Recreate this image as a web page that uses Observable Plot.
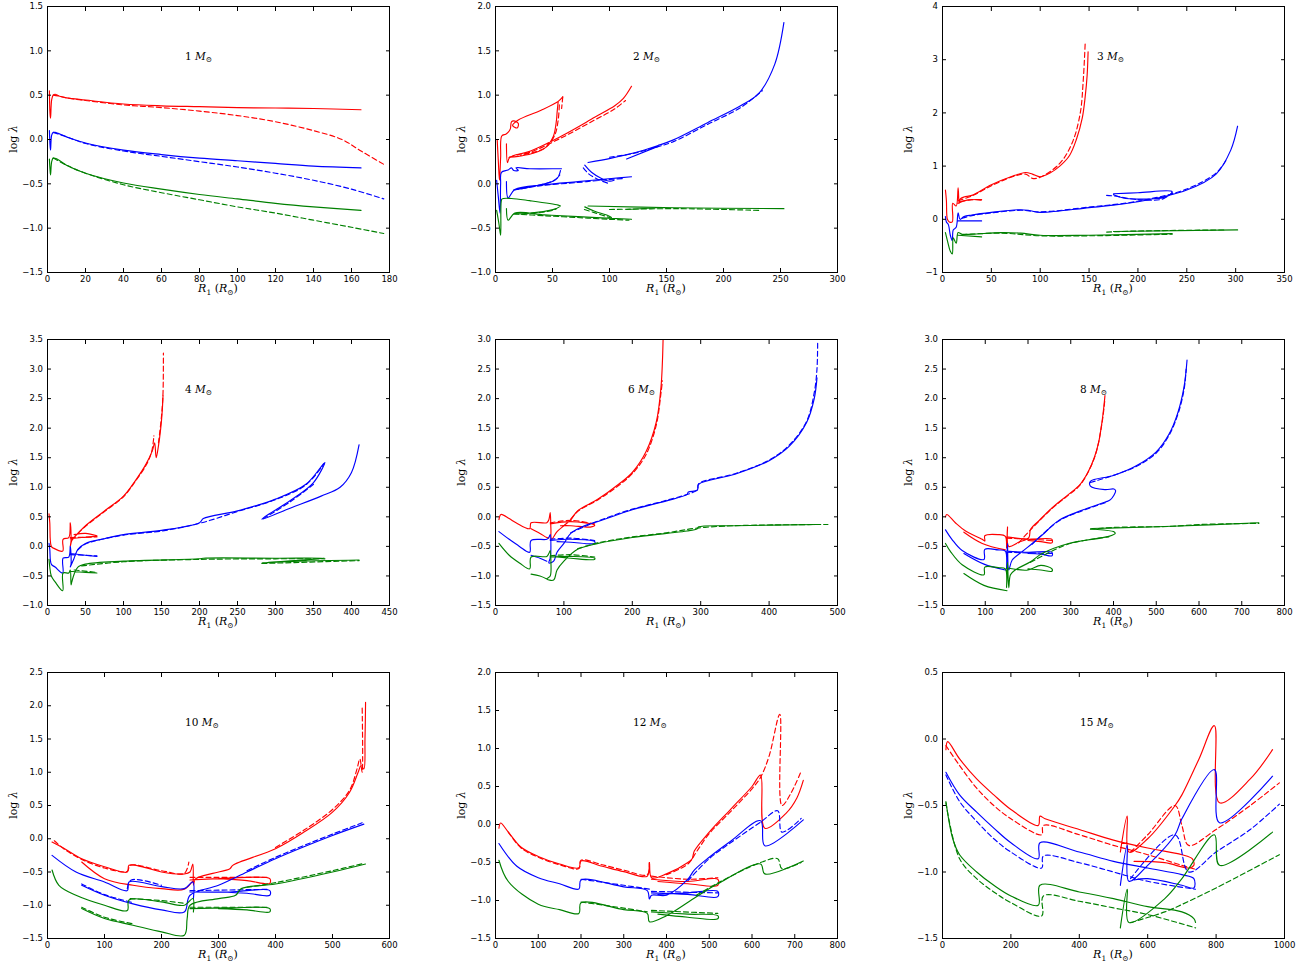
<!DOCTYPE html>
<html>
<head>
<meta charset="utf-8">
<script src="https://cdn.jsdelivr.net/npm/d3@7"></script>
<script src="https://cdn.jsdelivr.net/npm/@observablehq/plot@0.6"></script>
<style>
  body { margin: 0; background: white; }
  #wrap { position: relative; width: 1315px; height: 969px; background: white; }
  .cell { position: absolute; }
</style>
</head>
<body>
<div id="wrap"></div>
<script>
// ---------- panel masses ----------
const masses = ["1", "2", "3", "4", "6", "8", "10", "12", "15"];

// ---------- axis domains and ticks ----------
const m1_xdom = [0, 180], m1_ydom = [-1.5, 1.5];
const m2_xdom = [0, 300], m2_ydom = [-1.0, 2.0];
const m3_xdom = [0, 350], m3_ydom = [-1, 4];
const m4_xdom = [0, 450], m4_ydom = [-1.0, 3.5];
const m5_xdom = [0, 500], m5_ydom = [-1.5, 3.0];
const m6_xdom = [0, 800], m6_ydom = [-1.5, 3.0];
const m7_xdom = [0, 600], m7_ydom = [-1.5, 2.5];
const m8_xdom = [0, 800], m8_ydom = [-1.5, 2.0];
const m9_xdom = [0, 1000], m9_ydom = [-1.5, 0.5];

const m1_xticks = [0, 20, 40, 60, 80, 100, 120, 140, 160, 180];
const m1_yticks = [-1.5, -1.0, -0.5, 0.0, 0.5, 1.0, 1.5];
const m2_xticks = [0, 50, 100, 150, 200, 250, 300];
const m2_yticks = [-1.0, -0.5, 0.0, 0.5, 1.0, 1.5, 2.0];
const m3_xticks = [0, 50, 100, 150, 200, 250, 300, 350];
const m3_yticks = [-1, 0, 1, 2, 3, 4];
const m4_xticks = [0, 50, 100, 150, 200, 250, 300, 350, 400, 450];
const m4_yticks = [-1.0, -0.5, 0.0, 0.5, 1.0, 1.5, 2.0, 2.5, 3.0, 3.5];
const m5_xticks = [0, 100, 200, 300, 400, 500];
const m5_yticks = [-1.5, -1.0, -0.5, 0.0, 0.5, 1.0, 1.5, 2.0, 2.5, 3.0];
const m6_xticks = [0, 100, 200, 300, 400, 500, 600, 700, 800];
const m6_yticks = [-1.5, -1.0, -0.5, 0.0, 0.5, 1.0, 1.5, 2.0, 2.5, 3.0];
const m7_xticks = [0, 100, 200, 300, 400, 500, 600];
const m7_yticks = [-1.5, -1.0, -0.5, 0.0, 0.5, 1.0, 1.5, 2.0, 2.5];
const m8_xticks = [0, 100, 200, 300, 400, 500, 600, 700, 800];
const m8_yticks = [-1.5, -1.0, -0.5, 0.0, 0.5, 1.0, 1.5, 2.0];
const m9_xticks = [0, 200, 400, 600, 800, 1000];
const m9_yticks = [-1.5, -1.0, -0.5, 0.0, 0.5];

// ---------- series: [R1, log lambda], null = break ----------
// 1 Msun
const m1_rs = [[1,0.55],[1.3,0.3],[1.6,0.24],[2.2,0.45],[3,0.5],[4,0.51],[6,0.49],[10,0.47],[20,0.445],[40,0.40],[60,0.38],[80,0.37],[100,0.36],[120,0.355],[140,0.35],[165,0.335]];
const m1_rd = [[3,0.5],[6,0.49],[10,0.47],[20,0.44],[40,0.39],[60,0.36],[80,0.32],[100,0.27],[120,0.2],[140,0.1],[155,0.0],[165,-0.13],[177,-0.28]];
const m1_bs = [[1,0.1],[1.3,-0.05],[1.6,-0.12],[2.2,0.05],[3,0.08],[4,0.08],[10,0.03],[20,-0.04],[40,-0.12],[60,-0.17],[80,-0.21],[100,-0.24],[120,-0.27],[140,-0.30],[165,-0.32]];
const m1_bd = [[3,0.08],[10,0.03],[20,-0.045],[40,-0.13],[60,-0.19],[80,-0.25],[100,-0.31],[120,-0.38],[140,-0.46],[160,-0.56],[177,-0.67]];
const m1_gs = [[1,-0.22],[1.3,-0.33],[1.6,-0.4],[2.2,-0.25],[3,-0.21],[5,-0.22],[10,-0.29],[20,-0.38],[40,-0.49],[60,-0.56],[80,-0.62],[100,-0.67],[120,-0.72],[140,-0.76],[165,-0.80]];
const m1_gd = [[3,-0.21],[10,-0.29],[20,-0.38],[40,-0.51],[60,-0.6],[80,-0.68],[100,-0.76],[120,-0.83],[140,-0.91],[160,-0.99],[177,-1.06]];

// 2 Msun
const m2_rs = [[1.5,0.49],[2.5,0.25],[3.5,0.04],[4.5,0.3],[5.5,0.54],[9,0.56],[11,0.58],[13,0.62],[14,0.7],[16,0.71],[20,0.68],[19,0.63],[15,0.66],[20,0.72],[40,0.83],[55,0.93],[59,0.98], null,
  [55,0.93],[54,0.8],[53.5,0.72],[50.6,0.53],[43,0.4],[31.5,0.34],[19.9,0.31],[12,0.3], null,
  [9.6,0.45],[10.5,0.24],[12,0.29],[16,0.32],[28.6,0.36],[58,0.54],[87,0.75],[104.6,0.88],[112,0.96],[119.3,1.1]];
const m2_rd = [[56,0.89],[55,0.72],[52,0.55],[45,0.42],[35,0.36],[22,0.32], null, [12,0.3],[20,0.33],[30,0.355],[58,0.52],[87,0.72],[104,0.84],[114,0.94], null, [59,0.98],[58,0.85]];
const m2_bs = [[1,0.04],[2.5,-0.15],[4,-0.33],[4.5,0.0],[5.2,0.13],[11,0.157],[14,0.18],[16,0.15],[20,0.15],[18,0.18],[30,0.17],[55,0.17],[57.9,0.17], null,
  [56.4,0.1],[52,0.04],[43,0.0],[28.6,-0.04],[16,-0.07], null,
  [9.6,0.025],[11.1,-0.16],[16.9,-0.065],[43.2,-0.01],[72.4,0.025],[101.7,0.06],[119.3,0.08], null,
  [78.3,0.21],[84.2,0.13],[93,0.06],[100.3,0.03],[104,0.04], null,
  [81.2,0.24],[101.7,0.29],[122,0.35],[142,0.43],[155,0.49],[186,0.69],[215,0.88],[231,1.02],[245,1.35],[253,1.82], null,
  [115,0.28],[142,0.42]];
const m2_bd = [[57,0.15],[55,0.08],[50,0.03],[40,-0.01],[25,-0.05], null, [16,-0.07],[40,-0.02],[72,0.015],[100,0.05],[112,0.06], null, [77,0.18],[82,0.11],[90,0.05],[100,0.0], null, [100,0.3],[120,0.34],[140,0.41],[155,0.47],[186,0.67],[215,0.86],[234,1.05]];
const m2_gs = [[1,-0.3],[3,-0.45],[4.5,-0.58],[5,-0.2],[5.8,-0.17],[14,-0.165],[30,-0.19],[55,-0.24],[57,-0.25], null,
  [53.5,-0.28],[43,-0.31],[28.6,-0.33],[17,-0.34], null,
  [9.6,-0.28],[11.1,-0.41],[16.9,-0.33],[43,-0.35],[72.4,-0.37],[119.3,-0.4], null,
  [78.3,-0.26],[87,-0.31],[99,-0.36],[101.7,-0.38], null,
  [81.2,-0.25],[157,-0.27],[253,-0.28], null,
  [115,-0.29],[142,-0.27]];
const m2_gd = [[56,-0.26],[50,-0.3],[40,-0.32],[25,-0.34], null, [16,-0.34],[43,-0.36],[72,-0.38],[100,-0.4],[117,-0.41], null, [78,-0.29],[88,-0.33],[100,-0.38], null, [100,-0.29],[160,-0.28],[232,-0.3]];

// 3 Msun
const m3_rs = [[3,0.55],[4,0.35],[5,0.0],[7,-0.05],[10,-0.05],[10.5,0.3],[14,0.25],[16,0.59],[17,0.3],[18,0.38],[22,0.42],[30,0.45],[50,0.65],[70,0.8],[85,0.88],[92,0.85],[100,0.8],[110,0.87],[120,1.0],[130,1.2],[137,1.5],[143,1.9],[146,2.3],[148,2.7],[149,3.15], null, [16,0.3],[25,0.36],[40,0.37]];
const m3_rd = [[16,0.35],[30,0.44],[50,0.63],[70,0.79],[85,0.85],[92,0.77],[100,0.79],[120,1.05],[133,1.45],[141,2.0],[144,2.6],[146,3.3], null, [18,0.33],[30,0.37],[40,0.36]];
const m3_bs = [[3,0.05],[4,-0.05],[6,-0.1],[8,-0.3],[10,-0.4],[11,-0.2],[14,-0.15],[16,0.12],[18,0.0],[22,0.05],[30,0.08],[50,0.13],[80,0.18],[90,0.16],[100,0.13],[150,0.22],[200,0.33],[250,0.55],[280,0.85],[295,1.3],[302,1.75], null, [16,-0.03],[40,-0.03], null, [175,0.48],[200,0.5],[235,0.52],[232,0.45],[225,0.4],[200,0.38],[185,0.4],[175,0.46]];
const m3_bd = [[20,0.02],[30,0.07],[50,0.12],[80,0.17],[100,0.14],[150,0.23],[200,0.34],[250,0.57],[280,0.87],[290,1.1], null, [168,0.45],[175,0.44],[200,0.37],[225,0.38],[235,0.5]];
const m3_gs = [[3,-0.25],[5,-0.4],[8,-0.6],[10,-0.65],[11,-0.35],[14,-0.45],[16,-0.25],[20,-0.28],[30,-0.28],[60,-0.25],[80,-0.26],[100,-0.3],[150,-0.3],[235,-0.27], null, [16,-0.3],[40,-0.33], null, [175,-0.23],[302,-0.2]];
const m3_gd = [[20,-0.29],[60,-0.26],[100,-0.31],[150,-0.31],[235,-0.28], null, [168,-0.24],[200,-0.22],[290,-0.2]];

// 4 Msun
const m4_rs = [[2,0.55],[3,0.4],[5,0.0],[8,-0.03],[20,-0.08],[20.5,0.12],[28,0.15],[30,0.4],[31,0.1],[30,0.0],[32,0.1],[35,0.15],[40,0.22],[50,0.35],[75,0.6],[100,0.85],[115,1.1],[130,1.4],[138,1.62],[141,1.75],[143,1.5],[146,1.7],[149,2.0],[151,2.3],[152,2.55], null, [30,0.13],[45,0.15],[65,0.17], null, [35,0.2],[50,0.22],[65,0.18]];
const m4_rd = [[40,0.22],[50,0.34],[75,0.59],[100,0.84],[115,1.09],[130,1.38],[137,1.6],[140,1.87], null, [146,1.75],[150,2.2],[152,2.6],[152.5,3.27], null, [30,0.15],[65,0.16]];
const m4_bs = [[2,0.05],[3,-0.05],[5,-0.3],[10,-0.35],[20,-0.45],[20.5,-0.2],[28,-0.18],[30,0.0],[31,-0.3],[30,-0.35],[35,-0.2],[40,-0.05],[50,0.05],[75,0.13],[100,0.2],[150,0.27],[200,0.4],[205,0.47],[250,0.6],[300,0.8],[340,1.05],[362,1.38],[365,1.42],[350,1.08],[320,0.78],[282,0.46],[320,0.65],[360,0.85],[385,1.0],[400,1.25],[410,1.72], null, [30,-0.12],[50,-0.15],[65,-0.17]];
const m4_bd = [[40,-0.06],[50,0.04],[100,0.19],[150,0.26],[200,0.39],[250,0.59],[300,0.79],[340,1.04],[364,1.4], null, [350,1.05],[320,0.76],[284,0.47], null, [30,-0.14],[65,-0.16]];
const m4_gs = [[2,-0.22],[3,-0.35],[5,-0.5],[10,-0.6],[20,-0.75],[20.5,-0.45],[28,-0.45],[30,-0.4],[31,-0.65],[32,-0.6],[35,-0.47],[40,-0.35],[50,-0.3],[100,-0.25],[200,-0.21],[205,-0.2],[300,-0.2],[365,-0.2],[282,-0.28],[330,-0.25],[410,-0.23], null, [30,-0.42],[50,-0.44],[65,-0.45]];
const m4_gd = [[45,-0.33],[100,-0.26],[200,-0.22],[300,-0.21],[365,-0.21], null, [282,-0.29],[410,-0.24], null, [35,-0.4],[65,-0.44]];

// 6 Msun
const m5_rs = [[5,-0.05],[8,0.04],[20,-0.03],[30,-0.1],[50,-0.2],[52,-0.1],[75,-0.1],[78,-0.05],[80,0.07],[81,-0.2],[82,-0.38],[90,-0.25],[100,-0.15],[110,-0.05],[120,0.1],[150,0.3],[180,0.55],[200,0.75],[220,1.1],[235,1.6],[242,2.2],[245,3.0], null, [52,-0.2],[65,-0.28],[75,-0.35],[78,-0.36], null, [80,-0.12],[110,-0.08],[145,-0.14],[140,-0.17],[110,-0.15],[95,-0.15]];
const m5_rd = [[110,-0.04],[120,0.09],[150,0.29],[180,0.53],[200,0.73],[220,1.05],[235,1.55],[242,2.1],[244,2.3], null, [80,-0.1],[110,-0.06],[145,-0.12]];
const m5_bs = [[5,-0.25],[20,-0.38],[35,-0.5],[50,-0.6],[52,-0.4],[75,-0.38],[78,-0.35],[80,-0.3],[81,-0.5],[80,-0.7],[78,-0.78],[85,-0.75],[90,-0.6],[100,-0.45],[110,-0.28],[130,-0.15],[150,-0.08],[200,0.12],[250,0.27],[280,0.38],[282,0.42],[295,0.45],[297,0.55],[350,0.72],[400,0.95],[430,1.2],[455,1.6],[466,2.0],[470,2.35], null, [52,-0.65],[65,-0.7],[75,-0.75], null, [80,-0.4],[110,-0.38],[145,-0.42],[145,-0.45],[110,-0.43],[90,-0.42]];
const m5_bd = [[110,-0.27],[150,-0.07],[200,0.13],[250,0.28],[295,0.46],[297,0.56],[350,0.73],[400,0.96],[430,1.22],[455,1.62],[466,2.1],[470,2.5],[471,2.95], null, [80,-0.38],[110,-0.36],[145,-0.4]];
const m5_gs = [[5,-0.45],[20,-0.65],[35,-0.78],[50,-0.88],[52,-0.68],[75,-0.67],[78,-0.62],[80,-0.57],[81,-0.75],[80,-1.0],[75,-1.05],[85,-1.07],[90,-0.9],[100,-0.75],[120,-0.55],[150,-0.45],[200,-0.35],[250,-0.28],[280,-0.24],[295,-0.2],[297,-0.17],[350,-0.15],[470,-0.13], null, [52,-0.97],[65,-1.0],[75,-1.05], null, [80,-0.68],[110,-0.67],[145,-0.7],[145,-0.72],[110,-0.7],[90,-0.68]];
const m5_gd = [[120,-0.54],[150,-0.44],[200,-0.34],[250,-0.27],[295,-0.19],[350,-0.15],[470,-0.13],[486,-0.13], null, [80,-0.66],[110,-0.64],[145,-0.68]];

// 8 Msun
const m6_rs = [[7,0.0],[10,0.04],[30,-0.1],[54,-0.24],[93,-0.38],[99,-0.41],[99,-0.32],[130,-0.3],[147,-0.33],[150,-0.53],[152,-0.17],[155,-0.5],[178,-0.43],[202,-0.35],[206,-0.21],[225,-0.07],[256,0.15],[295,0.38],[322,0.55],[340,0.75],[355,1.0],[365,1.25],[373,1.6],[378,1.9],[380,2.05], null, [50,-0.26],[93,-0.45],[147,-0.56], null, [150,-0.34],[200,-0.38],[256,-0.38],[256,-0.44],[230,-0.42],[200,-0.4]];
const m6_rd = [[178,-0.44],[206,-0.22],[256,0.14],[295,0.37],[322,0.54],[355,0.99],[373,1.58],[380,2.0], null, [150,-0.36],[256,-0.4]];
const m6_bs = [[7,-0.22],[22,-0.38],[46,-0.57],[97,-0.72],[99,-0.55],[130,-0.56],[147,-0.58],[150,-0.88],[152,-0.45],[155,-0.9],[163,-0.73],[186,-0.59],[210,-0.45],[233,-0.31],[272,-0.06],[326,0.11],[381,0.25],[393,0.29],[405,0.44],[401,0.47],[380,0.46],[346,0.52],[346,0.6],[400,0.7],[450,0.85],[500,1.1],[530,1.4],[550,1.75],[565,2.2],[572,2.65], null, [50,-0.62],[97,-0.8],[147,-0.9], null, [150,-0.58],[200,-0.6],[256,-0.6],[256,-0.66],[230,-0.63],[200,-0.62]];
const m6_bd = [[210,-0.46],[272,-0.07],[326,0.1],[381,0.24], null, [346,0.58],[450,0.84],[500,1.08],[530,1.38],[550,1.72],[565,2.15],[570,2.5], null, [150,-0.6],[256,-0.62]];
const m6_gs = [[7,-0.45],[20,-0.6],[46,-0.81],[97,-0.98],[99,-0.85],[130,-0.86],[147,-0.88],[150,-1.2],[152,-0.77],[155,-1.2],[159,-0.98],[170,-0.9],[206,-0.76],[233,-0.62],[295,-0.45],[389,-0.33],[404,-0.28],[400,-0.25],[346,-0.2],[389,-0.19],[537,-0.16],[740,-0.1], null, [50,-0.96],[97,-1.16],[151,-1.25], null, [155,-0.87],[200,-0.9],[230,-0.82],[256,-0.88],[256,-0.92],[230,-0.9],[200,-0.88]];
const m6_gd = [[346,-0.21],[400,-0.18],[537,-0.16],[600,-0.13],[740,-0.11], null, [206,-0.77],[295,-0.46],[389,-0.34]];

// 10 Msun
const m7_rs = [[8,-0.05],[30,-0.15],[60,-0.3],[100,-0.42],[140,-0.5],[143,-0.4],[170,-0.43],[200,-0.5],[240,-0.53],[250,-0.5],[255,-0.38],[256,-0.7],[258,-0.62], null, [60,-0.35],[100,-0.6],[150,-0.7],[200,-0.75],[240,-0.76],[260,-0.6],[290,-0.52],[320,-0.45],[325,-0.4],[400,-0.15],[450,0.1],[500,0.4],[530,0.7],[545,1.0],[550,1.1],[555,1.05],[557,1.5],[558,2.05], null, [250,-0.62],[300,-0.6],[350,-0.58],[390,-0.6],[390,-0.67],[350,-0.63],[300,-0.6]];
const m7_rd = [[12,-0.03],[30,-0.16],[60,-0.31],[100,-0.44],[140,-0.49],[145,-0.4],[200,-0.48],[240,-0.52],[248,-0.35], null, [400,-0.13],[450,0.13],[500,0.44],[530,0.73],[543,1.05],[548,1.2],[552,1.0],[552,2.0], null, [250,-0.58],[390,-0.58]];
const m7_bs = [[8,-0.25],[50,-0.5],[100,-0.65],[140,-0.78],[143,-0.65],[200,-0.72],[240,-0.75],[255,-0.65],[256,-0.9], null, [60,-0.7],[100,-0.85],[150,-0.98],[200,-1.07],[240,-1.1],[250,-0.85],[300,-0.7],[350,-0.5],[400,-0.3],[450,-0.12],[500,0.05],[555,0.22], null, [250,-0.8],[320,-0.8],[390,-0.78],[390,-0.85],[350,-0.82],[300,-0.8]];
const m7_bd = [[60,-0.68],[100,-0.84],[150,-0.96], null, [140,-0.75],[147,-0.62],[200,-0.7], null, [350,-0.48],[400,-0.28],[450,-0.1],[500,0.07],[552,0.24], null, [250,-0.78],[390,-0.76]];
const m7_gs = [[8,-0.47],[20,-0.7],[50,-0.85],[100,-1.0],[140,-1.08],[143,-0.92],[200,-0.95],[240,-1.0],[255,-0.9],[256,-1.1], null, [60,-1.05],[100,-1.2],[150,-1.3],[200,-1.4],[240,-1.45],[245,-1.2],[250,-1.0],[300,-0.9],[330,-0.85],[340,-0.75],[400,-0.68],[500,-0.5],[558,-0.38], null, [250,-1.05],[320,-1.04],[390,-1.05],[390,-1.1],[350,-1.07],[300,-1.05]];
const m7_gd = [[60,-1.03],[100,-1.18],[150,-1.28], null, [145,-0.9],[200,-0.93],[240,-0.97], null, [350,-0.73],[400,-0.66],[500,-0.48],[555,-0.37], null, [250,-1.03],[390,-1.03]];

// 12 Msun
const m8_rs = [[8,-0.05],[12,0.02],[30,-0.1],[60,-0.3],[100,-0.42],[150,-0.52],[195,-0.57],[200,-0.48],[250,-0.55],[300,-0.62],[355,-0.68],[360,-0.5],[365,-0.7],[400,-0.65],[450,-0.5],[460,-0.45],[465,-0.35],[500,-0.1],[550,0.2],[600,0.5],[620,0.65],[630,-0.05],[680,0.15],[705,0.35],[720,0.58], null, [365,-0.72],[450,-0.75],[520,-0.72],[520,-0.8],[450,-0.78],[380,-0.75]];
const m8_rd = [[30,-0.1],[60,-0.31],[100,-0.43],[150,-0.53],[195,-0.58],[200,-0.47],[250,-0.53],[300,-0.6],[355,-0.66],[360,-0.5], null, [400,-0.66],[450,-0.52],[470,-0.36],[500,-0.12],[550,0.17],[600,0.47],[620,0.62],[640,0.9],[665,1.45],[670,0.25],[690,0.4],[715,0.7], null, [365,-0.68],[450,-0.72],[520,-0.7]];
const m8_bs = [[8,-0.25],[50,-0.55],[100,-0.7],[150,-0.78],[195,-0.85],[200,-0.73],[300,-0.82],[355,-0.87],[360,-0.98],[365,-0.93],[400,-0.93],[450,-0.72],[465,-0.6],[500,-0.43],[550,-0.22],[620,0.05],[630,-0.28],[720,0.06], null, [365,-0.9],[450,-0.92],[520,-0.95],[520,-0.88],[450,-0.9],[380,-0.92]];
const m8_bd = [[200,-0.72],[300,-0.8],[360,-0.85], null, [450,-0.74],[500,-0.45],[550,-0.24],[620,0.03],[660,0.18],[670,-0.1],[715,0.08], null, [365,-0.88],[520,-0.9]];
const m8_gs = [[8,-0.47],[30,-0.75],[100,-1.05],[150,-1.12],[195,-1.17],[200,-1.03],[300,-1.12],[355,-1.17],[360,-1.28],[400,-1.2],[470,-0.95],[520,-0.78],[620,-0.52],[630,-0.65],[720,-0.48], null, [365,-1.15],[450,-1.18],[520,-1.2],[520,-1.24],[450,-1.22],[380,-1.18]];
const m8_gd = [[200,-1.02],[300,-1.1],[355,-1.15], null, [470,-0.93],[520,-0.77],[620,-0.5],[660,-0.45],[670,-0.58],[715,-0.5], null, [365,-1.13],[520,-1.17]];

// 15 Msun
const m9_rs = [[10,-0.08],[15,-0.02],[50,-0.15],[100,-0.3],[150,-0.42],[200,-0.53],[280,-0.65],[285,-0.58],[300,-0.6],[400,-0.68],[500,-0.76],[600,-0.82],[700,-0.87],[730,-0.9],[735,-0.95],[720,-0.97],[650,-0.93],[560,-0.92], null, [520,-0.85],[540,-0.58],[545,-0.85],[600,-0.75],[680,-0.5],[700,-0.42],[750,-0.15],[795,0.1],[810,-0.48],[900,-0.3],[965,-0.08]];
const m9_rd = [[10,-0.05],[50,-0.2],[100,-0.37],[150,-0.5],[200,-0.6],[290,-0.72],[295,-0.65],[400,-0.72],[500,-0.8],[600,-0.87],[700,-0.95],[740,-0.98], null, [550,-0.85],[600,-0.72],[680,-0.5],[700,-0.65],[720,-0.8],[800,-0.68],[900,-0.5],[985,-0.33]];
const m9_bs = [[10,-0.25],[50,-0.42],[100,-0.55],[150,-0.67],[200,-0.78],[280,-0.9],[285,-0.78],[400,-0.85],[500,-0.92],[600,-0.97],[700,-1.02],[735,-1.05],[735,-1.12],[700,-1.1],[600,-1.05],[560,-1.06], null, [520,-1.1],[540,-0.8],[545,-1.07],[600,-0.95],[680,-0.72],[700,-0.6],[795,-0.23],[810,-0.63],[965,-0.28]];
const m9_bd = [[10,-0.27],[50,-0.47],[100,-0.62],[150,-0.75],[200,-0.85],[290,-0.97],[295,-0.88],[400,-0.93],[500,-1.0],[600,-1.07],[740,-1.13], null, [550,-1.05],[680,-0.72],[720,-1.0],[800,-0.85],[900,-0.68],[985,-0.49]];
const m9_gs = [[10,-0.47],[30,-0.75],[50,-0.87],[100,-1.0],[150,-1.1],[200,-1.18],[280,-1.25],[285,-1.1],[400,-1.15],[500,-1.2],[600,-1.26],[700,-1.3],[735,-1.35],[740,-1.38], null, [520,-1.42],[540,-1.13],[545,-1.38],[650,-1.2],[700,-1.05],[795,-0.72],[810,-0.95],[965,-0.7]];
const m9_gd = [[10,-0.48],[50,-0.9],[100,-1.05],[150,-1.15],[200,-1.23],[290,-1.33],[295,-1.18],[400,-1.22],[500,-1.27],[600,-1.32],[740,-1.42], null, [550,-1.38],[650,-1.3],[720,-1.22],[800,-1.12],[985,-0.87]];

// ---------- assemble ----------
const panels = [
  {m: masses[0], xd: m1_xdom, yd: m1_ydom, xt: m1_xticks, yt: m1_yticks, s: [m1_rs, m1_rd, m1_bs, m1_bd, m1_gs, m1_gd]},
  {m: masses[1], xd: m2_xdom, yd: m2_ydom, xt: m2_xticks, yt: m2_yticks, s: [m2_rs, m2_rd, m2_bs, m2_bd, m2_gs, m2_gd]},
  {m: masses[2], xd: m3_xdom, yd: m3_ydom, xt: m3_xticks, yt: m3_yticks, s: [m3_rs, m3_rd, m3_bs, m3_bd, m3_gs, m3_gd], int: true, ldx: 155},
  {m: masses[3], xd: m4_xdom, yd: m4_ydom, xt: m4_xticks, yt: m4_yticks, s: [m4_rs, m4_rd, m4_bs, m4_bd, m4_gs, m4_gd]},
  {m: masses[4], xd: m5_xdom, yd: m5_ydom, xt: m5_xticks, yt: m5_yticks, s: [m5_rs, m5_rd, m5_bs, m5_bd, m5_gs, m5_gd], ldx: 133},
  {m: masses[5], xd: m6_xdom, yd: m6_ydom, xt: m6_xticks, yt: m6_yticks, s: [m6_rs, m6_rd, m6_bs, m6_bd, m6_gs, m6_gd]},
  {m: masses[6], xd: m7_xdom, yd: m7_ydom, xt: m7_xticks, yt: m7_yticks, s: [m7_rs, m7_rd, m7_bs, m7_bd, m7_gs, m7_gd]},
  {m: masses[7], xd: m8_xdom, yd: m8_ydom, xt: m8_xticks, yt: m8_yticks, s: [m8_rs, m8_rd, m8_bs, m8_bd, m8_gs, m8_gd]},
  {m: masses[8], xd: m9_xdom, yd: m9_ydom, xt: m9_xticks, yt: m9_yticks, s: [m9_rs, m9_rd, m9_bs, m9_bd, m9_gs, m9_gd]}
];
const colors = ["#ff0000", "#ff0000", "#0000ff", "#0000ff", "#008000", "#008000"];
const dashes = [null, "5,3", null, "5,3", null, "5,3"];

const colLeft = [0, 448, 895];
const rowTop = [0, 333, 666];
const ML = 47, MR = 15, MT = 6, MB = 34, W = 404, H = 306;
const PW = W - ML - MR, PH = H - MT - MB;

const minus = s => s.replace("-", "\u2212");
const fmtY = (int) => d => minus(int ? String(d) : d.toFixed(1));

const wrap = document.getElementById("wrap");
const toRows = arr => arr.map(d => d ? {x: d[0], y: d[1]} : {x: NaN, y: NaN});

panels.forEach((p, i) => {
  const col = i % 3, row = Math.floor(i / 3);
  const lineMarks = p.s.map((arr, k) => Plot.line(toRows(arr), {
    x: "x", y: "y", stroke: colors[k], strokeWidth: 1.15,
    strokeDasharray: dashes[k] || undefined, clip: true, curve: "catmull-rom"
  }));
  const chart = Plot.plot({
    width: W, height: H,
    marginLeft: ML, marginRight: MR, marginTop: MT, marginBottom: MB,
    x: {domain: p.xd},
    y: {domain: p.yd},
    style: {background: "white", fontFamily: "'DejaVu Sans', sans-serif", fontSize: "8.5px", color: "black"},
    marks: [
      ...lineMarks,
      Plot.axisX(p.xt, {anchor: "bottom", tickSize: -4, tickPadding: 7, tickFormat: d => String(d), label: null, stroke: "black"}),
      Plot.axisX(p.xt, {anchor: "top", tickSize: -4, tickFormat: () => "", label: null, stroke: "black"}),
      Plot.axisY(p.yt, {anchor: "left", tickSize: -4, tickPadding: 8.5, tickFormat: fmtY(p.int), label: null, stroke: "black"}),
      Plot.axisY(p.yt, {anchor: "right", tickSize: -4, tickFormat: () => "", label: null, stroke: "black"}),
      Plot.frame({stroke: "black", strokeWidth: 1})
    ]
  });
  const svg = d3.select(chart);
  const serif = "'DejaVu Serif', 'Liberation Serif', serif";
  // x label
  const xl = svg.append("text")
    .attr("x", ML + PW / 2).attr("y", MT + PH + 20)
    .attr("text-anchor", "middle").attr("font-family", serif).attr("font-size", 11).attr("fill", "black");
  xl.append("tspan").attr("font-style", "italic").text("R");
  xl.append("tspan").attr("font-size", 7.5).attr("dy", 2.5).text("1");
  xl.append("tspan").attr("dy", -2.5).text(" (");
  xl.append("tspan").attr("font-style", "italic").text("R");
  xl.append("tspan").attr("font-size", 7.5).attr("dy", 2.5).text("\u2299");
  xl.append("tspan").attr("dy", -2.5).text(")");
  // y label
  const yl = svg.append("text")
    .attr("transform", `translate(${ML - 30},${MT + PH / 2}) rotate(-90)`)
    .attr("text-anchor", "middle").attr("font-family", serif).attr("font-size", 11).attr("fill", "black");
  yl.append("tspan").text("log ");
  yl.append("tspan").attr("font-style", "italic").text("\u03bb");
  // mass annotation
  const ml = svg.append("text")
    .attr("x", ML + (p.ldx || 138)).attr("y", MT + 53.5)
    .attr("text-anchor", "start")
    .attr("font-family", serif).attr("font-size", 10.5).attr("fill", "black");
  ml.append("tspan").text(p.m + " ");
  ml.append("tspan").attr("font-style", "italic").text("M");
  ml.append("tspan").attr("font-size", 7.5).attr("dy", 2.5).text("\u2299");

  const cell = document.createElement("div");
  cell.className = "cell";
  cell.style.left = colLeft[col] + "px";
  cell.style.top = rowTop[row] + "px";
  cell.appendChild(chart);
  wrap.appendChild(cell);
});
</script>
</body>
</html>
